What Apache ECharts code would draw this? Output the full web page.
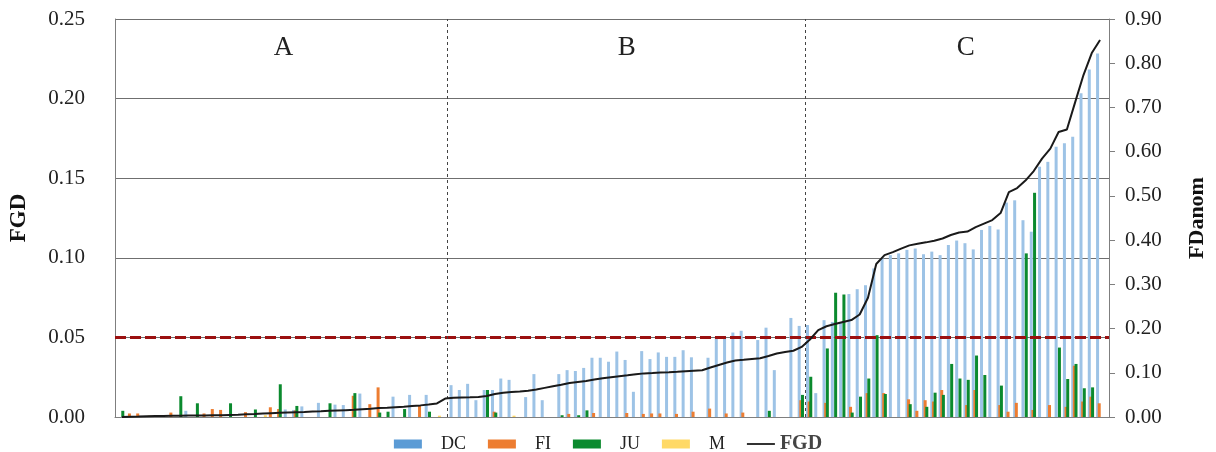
<!DOCTYPE html>
<html>
<head>
<meta charset="utf-8">
<script src="https://cdn.jsdelivr.net/npm/echarts@6/dist/echarts.min.js"></script>
<style>
  html, body { margin: 0; padding: 0; background: #ffffff; }
  #chart { width: 1216px; height: 452px; }
</style>
</head>
<body>
<div id="chart"></div>
<script>
// Sample index (sorted by FGD) runs 0..118
const DC = [
  0,0,0,0,0,0,0,0,0.014,0,
  0,0,0,0,0,0,0,0,0,0,
  0.017,0.016,0.024,0,0.032,0,0.028,0.027,0,0.053,
  0,0,0,0.046,0,0.050,0,0.050,0,0,
  0.072,0.061,0.075,0.038,0.061,0.061,0.087,0.084,0,0.045,
  0.097,0.038,0,0.097,0.106,0.104,0.111,0.134,0.134,0.125,
  0.148,0.129,0.057,0.149,0.131,0.146,0.136,0.136,0.151,0.135,
  0,0.134,0.178,0.179,0.191,0.195,0,0.174,0.202,0.106,
  0,0.224,0.206,0.208,0.054,0.219,0.215,0.215,0.278,0.289,
  0.298,0.336,0.359,0.366,0.370,0.378,0.381,0.368,0.374,0.366,
  0.389,0.399,0.393,0.379,0.423,0.432,0.424,0.485,0.490,0.445,
  0.419,0.566,0.577,0.611,0.619,0.634,0.732,0.786,0.822
];
const FI = [
  0,0.008,0.008,0,0,0,0.010,0,0,0,
  0.008,0.018,0.016,0,0,0.011,0,0,0.022,0.018,
  0,0.015,0,0,0,0,0,0,0.048,0,
  0.029,0.067,0,0,0,0,0.027,0,0,0,
  0,0,0,0,0,0.012,0,0,0,0,
  0,0,0,0,0.007,0,0,0.009,0,0,
  0,0.009,0,0.007,0.008,0.008,0,0.007,0,0.012,
  0,0.019,0,0.008,0,0.010,0,0,0,0,
  0,0,0.038,0.035,0,0.032,0,0,0.023,0,
  0.054,0,0.054,0,0,0.040,0.014,0.038,0.035,0.061,
  0,0,0.027,0.061,0,0,0.027,0.012,0.032,0,
  0.016,0,0.027,0,0.023,0.116,0.035,0.046,0.031
];
const JU = [
  0.014,0,0,0,0,0,0,0.047,0,0.031,
  0,0,0,0.031,0,0,0.017,0,0,0.074,
  0,0.025,0,0,0,0.031,0,0,0.054,0,
  0,0.010,0.012,0,0.018,0,0,0.012,0,0,
  0,0,0,0,0.061,0.010,0,0,0,0,
  0,0,0,0.004,0,0.004,0.015,0,0,0,
  0,0,0,0,0,0,0,0,0,0,
  0,0,0,0,0,0,0,0,0.014,0,
  0,0,0.050,0.091,0,0.155,0.281,0.277,0.010,0.046,
  0.087,0.185,0.052,0,0,0.029,0,0.023,0.055,0.050,
  0.120,0.087,0.084,0.139,0.095,0,0.071,0,0,0.370,
  0.507,0,0,0.157,0.086,0.120,0.065,0.067,0
];
const M = [
  0,0,0,0.003,0,0,0,0,0,0,
  0,0,0,0,0,0,0,0.004,0,0,
  0,0,0,0,0,0,0,0,0,0,
  0,0,0,0,0,0,0,0,0.003,0,
  0,0,0,0,0,0,0,0.003,0,0,
  0,0,0,0,0,0,0,0,0,0,
  0,0,0,0,0,0,0,0,0,0,
  0,0,0,0,0,0,0,0,0,0,
  0,0,0,0,0,0,0,0,0,0,
  0,0,0,0,0,0,0,0,0,0,
  0,0,0,0,0,0,0,0,0,0,
  0,0,0,0,0,0,0,0,0
];
const FGD = [
  0.0000,0.0002,0.0003,0.0005,0.0006,0.0007,0.0008,0.0008,0.0009,0.0009,
  0.0010,0.0011,0.0011,0.0013,0.0014,0.0017,0.0019,0.0022,0.0024,0.0026,
  0.0028,0.0030,0.0032,0.0035,0.0036,0.0039,0.0041,0.0043,0.0045,0.0049,
  0.0052,0.0056,0.0058,0.0062,0.0065,0.0069,0.0073,0.0078,0.0085,0.0116,
  0.0121,0.0123,0.0124,0.0126,0.0132,0.0144,0.0153,0.0157,0.0160,0.0165,
  0.0173,0.0183,0.0193,0.0203,0.0214,0.0220,0.0226,0.0236,0.0243,0.0250,
  0.0256,0.0262,0.0269,0.0274,0.0276,0.0279,0.0281,0.0284,0.0288,0.0291,
  0.0294,0.0311,0.0327,0.0342,0.0355,0.0359,0.0364,0.0369,0.0383,0.0399,
  0.0408,0.0416,0.0440,0.0487,0.0546,0.0570,0.0584,0.0597,0.0609,0.0644,
  0.0749,0.0961,0.1017,0.1036,0.1058,0.1078,0.1088,0.1097,0.1107,0.1121,
  0.1143,0.1159,0.1165,0.1193,0.1215,0.1237,0.1281,0.1413,0.1438,0.1485,
  0.1545,0.1623,0.1686,0.1790,0.1806,0.1978,0.2148,0.2286,0.2368
];
const FGD_THRESHOLD = 0.05;
const REGION_NAMES = ['A', 'B', 'C'];
const REGION_SPLITS = [39.2, 82.45];
const REGION_LABEL_AT = [19.5, 60.9, 101.8];
const X_RANGE = [-0.84, 119.08];
const LEFT_TICKS = [0, 0.25, 0.05];
const RIGHT_TICKS = [0, 0.9, 0.1];

const SERIF = '"Liberation Serif", "DejaVu Serif", serif';
const COLORS = { DC: '#9dc3e6', FI: '#ed7d31', JU: '#0b8a2e', M: '#ffd966', FGD: '#1a1a1a' };
const LEGEND_COLORS = { DC: '#5b9bd5', FI: '#ed7d31', JU: '#0b8a2e', M: '#ffd966' };

const pairs = arr => arr.map((v, i) => [i, v]);

const barSeries = (name, values) => ({
  name,
  type: 'bar',
  xAxisIndex: 0,
  yAxisIndex: 1,
  barWidth: 3,
  barGap: '-45%',
  itemStyle: { color: COLORS[name] },
  data: pairs(values),
  silent: true,
  animation: false
});

const chart = echarts.init(document.getElementById('chart'), null, { renderer: 'canvas' });

const axisGray = '#7f7f7f';

chart.setOption({
  animation: false,
  textStyle: { fontFamily: SERIF },
  grid: { left: 113, right: 103, top: 19, bottom: 35 },
  xAxis: {
    type: 'value',
    min: X_RANGE[0],
    max: X_RANGE[1],
    axisLine: { show: true, onZero: false, lineStyle: { color: axisGray, width: 1 } },
    axisTick: { show: false },
    axisLabel: { show: false },
    splitLine: { show: false }
  },
  yAxis: [
    {
      type: 'value',
      position: 'left',
      min: LEFT_TICKS[0], max: LEFT_TICKS[1], interval: LEFT_TICKS[2],
      name: 'FGD',
      nameLocation: 'middle',
      nameGap: 84,
      nameTextStyle: { fontFamily: SERIF, fontSize: 23, fontWeight: 'bold', color: '#111' },
      axisLine: { show: true, onZero: false, lineStyle: { color: axisGray } },
      axisTick: { show: false },
      axisLabel: { formatter: v => v.toFixed(2), fontFamily: SERIF, fontSize: 21, color: '#222', margin: 30 },
      splitLine: { show: true, lineStyle: { color: '#6f6f6f', width: 1 } }
    },
    {
      type: 'value',
      position: 'right',
      min: RIGHT_TICKS[0], max: RIGHT_TICKS[1], interval: RIGHT_TICKS[2],
      name: 'FDanom',
      nameLocation: 'middle',
      nameGap: 77,
      nameRotate: 90,
      nameTextStyle: { fontFamily: SERIF, fontSize: 22, fontWeight: 'bold', color: '#111' },
      axisLine: { show: true, onZero: false, lineStyle: { color: axisGray } },
      axisTick: { show: true, inside: false, length: 6, lineStyle: { color: axisGray } },
      axisLabel: { formatter: v => v.toFixed(2), fontFamily: SERIF, fontSize: 21, color: '#222', margin: 16 },
      splitLine: { show: false }
    }
  ],
  legend: {
    top: 429,
    left: 'center',
    itemWidth: 28,
    itemHeight: 9,
    itemGap: 22,
    textStyle: { fontFamily: SERIF, fontSize: 18, color: '#222', padding: [4, 0, 0, 14] },
    data: [
      { name: 'DC', icon: 'rect', itemStyle: { color: LEGEND_COLORS.DC } },
      { name: 'FI', icon: 'rect', itemStyle: { color: LEGEND_COLORS.FI } },
      { name: 'JU', icon: 'rect', itemStyle: { color: LEGEND_COLORS.JU } },
      { name: 'M', icon: 'rect', itemStyle: { color: LEGEND_COLORS.M } },
      {
        name: 'FGD',
        icon: 'path://M0,0 L28,0 L28,2 L0,2 Z',
        itemStyle: { color: '#333' },
        textStyle: { fontWeight: 'bold', fontSize: 20, color: '#444', padding: [0, 0, 0, 0] }
      }
    ]
  },
  series: [
    barSeries('DC', DC),
    barSeries('FI', FI),
    barSeries('JU', JU),
    barSeries('M', M),
    {
      name: 'FGD',
      type: 'line',
      xAxisIndex: 0,
      yAxisIndex: 0,
      data: pairs(FGD),
      showSymbol: false,
      symbol: 'none',
      lineStyle: { color: COLORS.FGD, width: 2 },
      itemStyle: { color: COLORS.FGD },
      z: 5,
      markLine: {
        silent: true,
        symbol: 'none',
        label: { show: false },
        animation: false,
        data: [
          { yAxis: FGD_THRESHOLD, lineStyle: { color: '#9b1010', width: 3, type: [11, 4] } },
          { xAxis: REGION_SPLITS[0], lineStyle: { color: '#444', width: 1, type: [3, 3] } },
          { xAxis: REGION_SPLITS[1], lineStyle: { color: '#444', width: 1, type: [3, 3] } }
        ]
      }
    }
  ]
});

// Region letters placed over each segment of the sample range
const labelY = chart.convertToPixel({ yAxisIndex: 0 }, 0.232);
chart.setOption({
  graphic: REGION_NAMES.map((name, i) => ({
    type: 'text',
    x: chart.convertToPixel({ xAxisIndex: 0 }, REGION_LABEL_AT[i]),
    y: labelY,
    style: {
      text: name,
      font: '27px ' + SERIF,
      fill: '#222',
      textAlign: 'center',
      textVerticalAlign: 'middle'
    },
    silent: true
  }))
});
</script>
</body>
</html>
